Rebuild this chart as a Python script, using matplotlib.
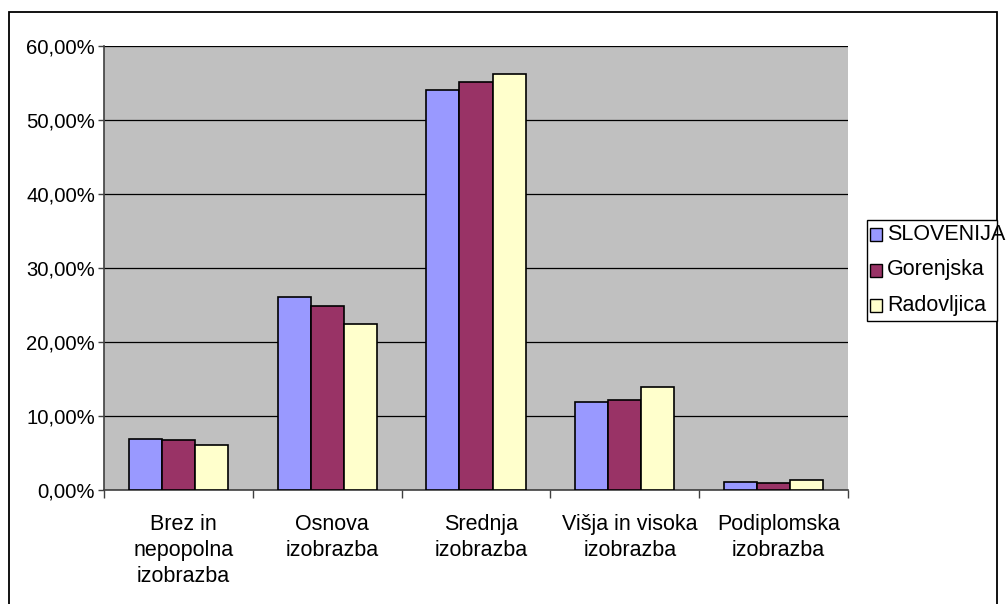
import matplotlib
matplotlib.use("Agg")
import matplotlib.pyplot as plt
import matplotlib.patches as mpatches
import matplotlib.transforms as mtransforms
import numpy as np
from matplotlib.ticker import FuncFormatter, MultipleLocator

plt.rcParams['font.family'] = ['Liberation Sans', 'DejaVu Sans']

categories = ["Brez in\nnepopolna\nizobrazba", "Osnova\nizobrazba", "Srednja\nizobrazba",
              "Višja in visoka\nizobrazba", "Podiplomska\nizobrazba"]
series_names = ["SLOVENIJA", "Gorenjska", "Radovljica"]
slovenija = [6.9, 26.1, 54.1, 11.9, 1.1]
gorenjska = [6.7, 24.8, 55.1, 12.2, 0.9]
radovljica = [6.1, 22.5, 56.2, 13.9, 1.3]
colors = ["#9999FF", "#993366", "#FFFFCC"]

FS = 15.5
W, H = 1006, 604
fig = plt.figure(figsize=(W / 100, H / 100), dpi=100)
fig.patch.set_facecolor("white")
ax = fig.add_axes([104 / W, 1 - 490 / H, 744 / W, 444 / H])
ax.set_facecolor("#C0C0C0")

x = np.arange(len(categories))
bw = 1 / 4.5
for i, (vals, c, name) in enumerate(zip([slovenija, gorenjska, radovljica], colors, series_names)):
    ax.bar(x + (i - 1) * bw, vals, width=bw, color=c, edgecolor="black", linewidth=1.2,
           label=name, zorder=3)

ax.set_xlim(-0.5, len(categories) - 0.5)
ax.set_ylim(0, 60)
ax.yaxis.set_major_locator(MultipleLocator(10))
ax.yaxis.set_major_formatter(FuncFormatter(lambda v, p: f"{v:.2f}".replace(".", ",") + "%"))
ax.grid(axis="y", color="black", linewidth=0.9, zorder=1)
ax.set_axisbelow(True)

ax.set_xticks(x)
ax.set_xticklabels(categories, fontsize=FS, linespacing=1.32)
ax.tick_params(axis="x", length=0, pad=17)
shift = mtransforms.ScaledTranslation(5 / 100, 0, fig.dpi_scale_trans)
for lbl in ax.get_xticklabels():
    lbl.set_transform(lbl.get_transform() + shift)
ax.set_xticks(np.arange(-0.5, len(categories)), minor=True)
ax.tick_params(axis="x", which="minor", length=6, width=1, color="#404040")
ax.tick_params(axis="y", labelsize=14.6, length=4, width=1, color="#404040", pad=2.5)

for s in ["top", "right"]:
    ax.spines[s].set_visible(False)
for s in ["left", "bottom"]:
    ax.spines[s].set_color("#404040")
    ax.spines[s].set_linewidth(1.2)

# outer chart frame
frame = mpatches.Rectangle((9 / W, -0.02), 988 / W, (604 - 12) / H + 0.02,
                           transform=fig.transFigure, fill=False, edgecolor="black",
                           linewidth=1.3, clip_on=False)
fig.patches.append(frame)

# legend (drawn manually so the text can overflow the box like the original)
lx0, ly0, lx1, ly1 = 867, 220, 997, 321
fig.patches.append(mpatches.Rectangle((lx0 / W, 1 - ly1 / H), (lx1 - lx0) / W, (ly1 - ly0) / H,
                                      transform=fig.transFigure, facecolor="white",
                                      edgecolor="black", linewidth=1.0))
for i, (name, c) in enumerate(zip(series_names, colors)):
    top = 228 + i * 35.5
    fig.patches.append(mpatches.Rectangle((870 / W, 1 - (top + 13) / H), 12 / W, 13 / H,
                                          transform=fig.transFigure, facecolor=c,
                                          edgecolor="black", linewidth=1.0))
    fig.text(887 / W, 1 - (top + 6.5) / H, name, fontsize=FS, va="center", ha="left")

fig.savefig("out.png", dpi=100)
